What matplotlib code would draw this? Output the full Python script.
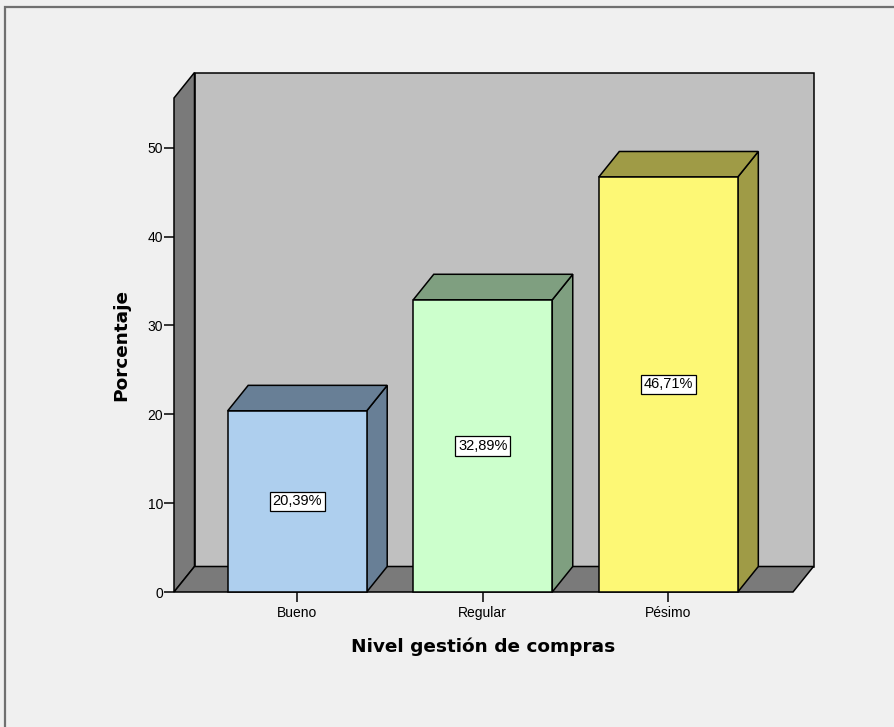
import matplotlib
matplotlib.use("Agg")
import matplotlib.pyplot as plt
from matplotlib.patches import Polygon, Rectangle

categories = ["Bueno", "Regular", "Pésimo"]
percentages = [20.39, 32.89, 46.71]
labels = ["20,39%", "32,89%", "46,71%"]
y_ticks = [0, 10, 20, 30, 40, 50]

front_colors = ["#aecfee", "#ccffcc", "#fdf875"]
shade_colors = ["#687f96", "#7f9f80", "#9f9b46"]

plt.rcParams["font.family"] = ["Liberation Sans", "DejaVu Sans"]

W, H = 894, 727
fig = plt.figure(figsize=(W / 100, H / 100), dpi=100)
fig.patch.set_facecolor("#f0f0f0")

# outer frame (left and top edges visible)
fig.add_artist(Rectangle((5 / W, -0.1), 1.2, 1 - 7 / H + 0.1, transform=fig.transFigure,
                         fill=False, ec="#707070", lw=1.6))

# front plane of the 3D box in pixels: x 174..793, y 98..592
ax = fig.add_axes([174 / W, (H - 592) / H, 619 / W, 494 / H])
ax.set_facecolor("none")
xlo, xhi = -0.664, 2.672
ytop = 55.6
ax.set_xlim(xlo, xhi)
ax.set_ylim(0, ytop)
for s in ax.spines.values():
    s.set_visible(False)

# depth offset in data units (about 20 px right, 25.5 px up)
dx = 20.5 / (619 / (xhi - xlo))
dy = 25.5 / (494 / ytop)

kw = dict(ec="black", lw=1.1, clip_on=False, joinstyle="miter")
# back wall
ax.add_patch(Polygon([(xlo + dx, dy), (xhi + dx, dy), (xhi + dx, ytop + dy), (xlo + dx, ytop + dy)],
                     fc="#c0c0c0", **kw))
# left wall
ax.add_patch(Polygon([(xlo, 0), (xlo + dx, dy), (xlo + dx, ytop + dy), (xlo, ytop)],
                     fc="#7a7a7a", **kw))
# floor
ax.add_patch(Polygon([(xlo, 0), (xhi, 0), (xhi + dx, dy), (xlo + dx, dy)],
                     fc="#7a7a7a", **kw))

bw = 139 / (619 / (xhi - xlo))
for i, (v, fc, sc, lab) in enumerate(zip(percentages, front_colors, shade_colors, labels)):
    l, r = i - bw / 2, i + bw / 2
    ax.add_patch(Polygon([(r, 0), (r + dx, dy), (r + dx, v + dy), (r, v)], fc=sc, **kw))
    ax.add_patch(Polygon([(l, v), (r, v), (r + dx, v + dy), (l + dx, v + dy)], fc=sc, **kw))
    ax.add_patch(Polygon([(l, 0), (r, 0), (r, v), (l, v)], fc=fc, **kw))
    ax.text(i, v / 2, lab, ha="center", va="center", fontsize=10.5,
            bbox=dict(boxstyle="square,pad=0.2", fc="white", ec="black", lw=0.9))

ax.set_yticks(y_ticks)
ax.set_xticks(range(len(categories)))
ax.set_xticklabels(categories)
ax.tick_params(axis="y", length=7, width=1.1, labelsize=10, pad=1, color="black")
ax.tick_params(axis="x", length=7, width=1.1, labelsize=10, pad=3, color="black")

ax.set_xlabel("Nivel gestión de compras", fontsize=13.3, fontweight="bold", labelpad=13,
              family="DejaVu Sans")
ax.set_ylabel("Porcentaje", fontsize=13.3, fontweight="bold", labelpad=12,
              family="DejaVu Sans")

fig.savefig("out.png", dpi=100, facecolor=fig.get_facecolor())
